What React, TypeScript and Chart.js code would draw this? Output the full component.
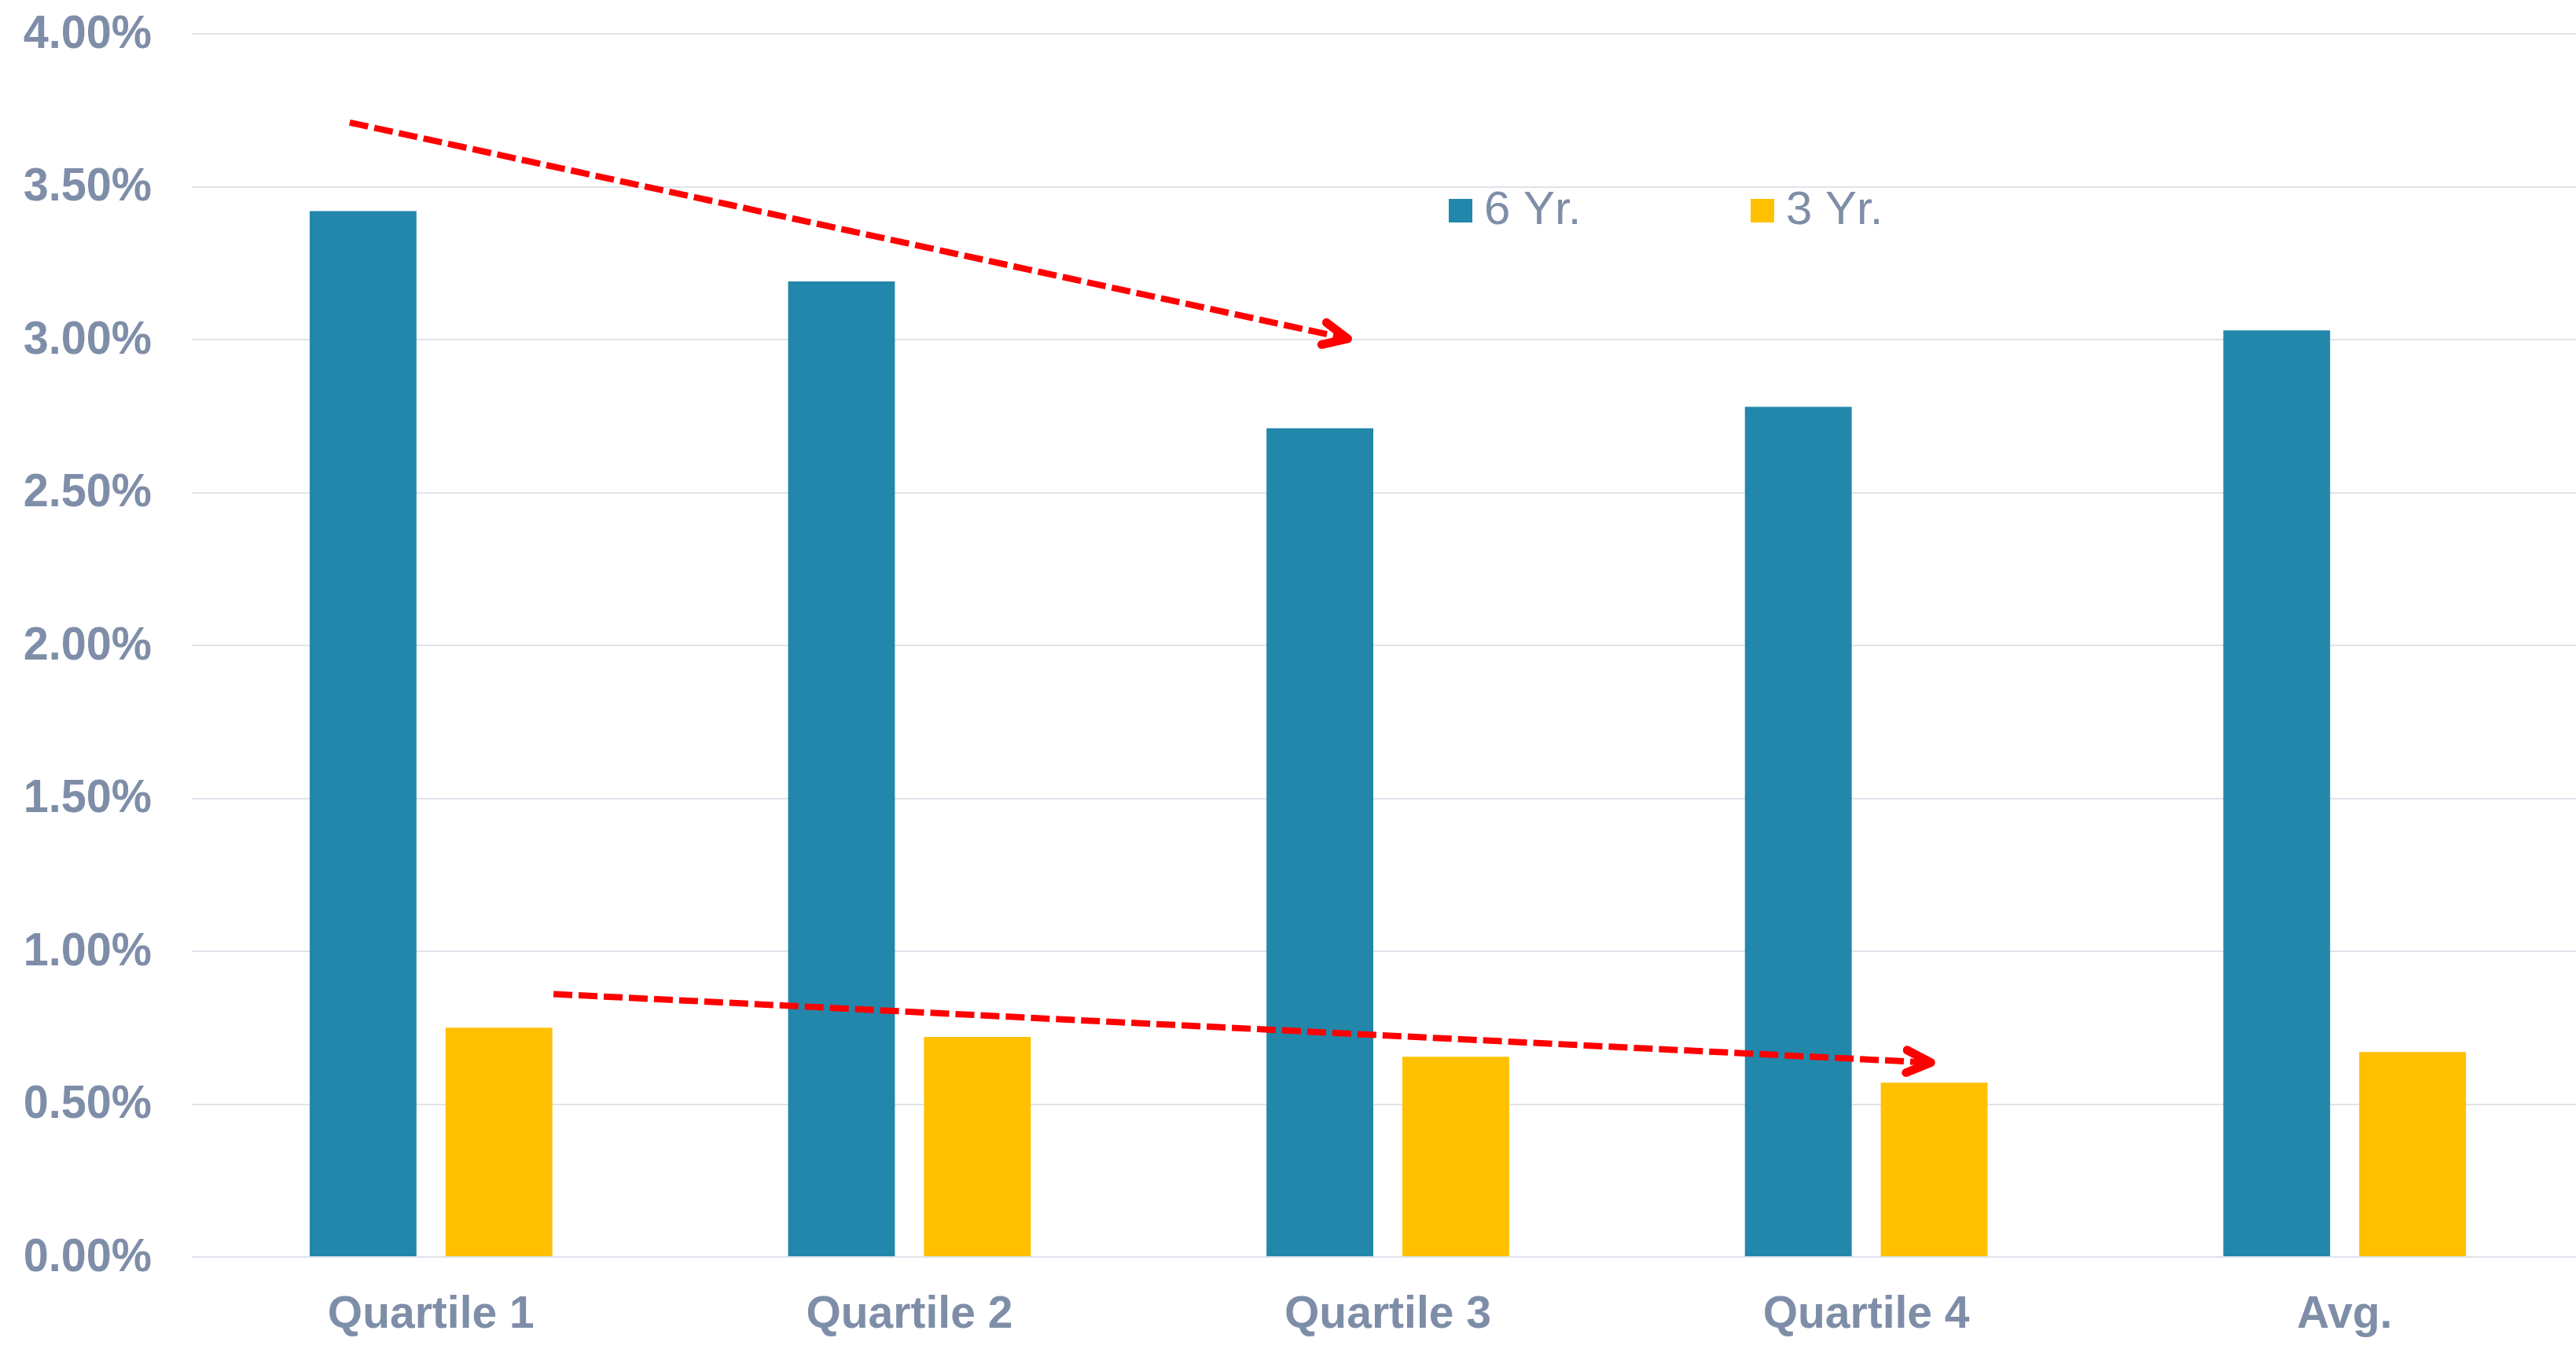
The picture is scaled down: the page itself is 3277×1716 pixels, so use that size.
import { useEffect, useRef } from "react";
import { Chart, registerables } from "chart.js";

Chart.register(...registerables);

// ---- data ----
const categories = ["Quartile 1", "Quartile 2", "Quartile 3", "Quartile 4", "Avg."];
const sixYear = [3.42, 3.19, 2.71, 2.78, 3.03];
const threeYear = [0.75, 0.72, 0.655, 0.57, 0.67];
const seriesLabels = ["6 Yr.", "3 Yr."];
const yTicks = [0, 0.5, 1, 1.5, 2, 2.5, 3, 3.5, 4];

// trend arrows, each point is [category index, value in %]
const upperTrend = [
  [-0.17, 3.71],
  [1.925, 3.0],
];
const lowerTrend = [
  [0.256, 0.86],
  [3.144, 0.635],
];

// ---- styling ----
const FONT = '"Liberation Sans", Arial, Helvetica, sans-serif';
const TEXT = "#7f8ea8";
const BLUE = "#2287ab";
const GOLD = "#ffc000";
const GRID = "#dfe3ea";
const RED = "#ff0000";

const W = 3287;
const H = 1716;

const yLabelPlugin = {
  id: "yLabels",
  afterDraw(chart: any) {
    const { ctx, scales } = chart;
    const y = scales.y;
    ctx.save();
    ctx.fillStyle = TEXT;
    ctx.font = `bold 60px ${FONT}`;
    ctx.textAlign = "right";
    ctx.textBaseline = "middle";
    for (const v of yTicks) {
      const py = y.getPixelForValue(v);
      ctx.save();
      ctx.translate(193, py);
      ctx.scale(0.96, 1);
      ctx.fillText(`${v.toFixed(2)}%`, 0, 1);
      ctx.restore();
    }
    ctx.restore();
  },
};

const legendPlugin = {
  id: "insideLegend",
  afterDraw(chart: any) {
    const { ctx } = chart;
    const slots = [1843, 2227];
    const cy = 268;
    ctx.save();
    chart.data.datasets.forEach((ds: any, i: number) => {
      const x = slots[i];
      ctx.fillStyle = ds.backgroundColor;
      ctx.fillRect(x, cy - 15, 30, 30);
      ctx.fillStyle = TEXT;
      ctx.font = `60px ${FONT}`;
      ctx.textAlign = "left";
      ctx.textBaseline = "middle";
      ctx.fillText(ds.label, x + 45, cy);
    });
    ctx.restore();
  },
};

function drawTrend(chart: any, pts: number[][]) {
  const { ctx, scales } = chart;
  const x0 = scales.x.getPixelForValue(pts[0][0]);
  const y0 = scales.y.getPixelForValue(pts[0][1]);
  const x1 = scales.x.getPixelForValue(pts[1][0]);
  const y1 = scales.y.getPixelForValue(pts[1][1]);
  const dx = x1 - x0;
  const dy = y1 - y0;
  const len = Math.hypot(dx, dy);
  const ux = dx / len;
  const uy = dy / len;
  const jx = x1 - ux * 5.5;
  const jy = y1 - uy * 5.5;

  ctx.save();
  ctx.strokeStyle = RED;
  ctx.lineWidth = 8;
  ctx.lineCap = "butt";
  ctx.setLineDash([24, 8]);
  ctx.beginPath();
  ctx.moveTo(x0, y0);
  ctx.lineTo(jx - ux * 4, jy - uy * 4);
  ctx.stroke();

  ctx.setLineDash([]);
  ctx.lineWidth = 11;
  ctx.lineCap = "round";
  ctx.lineJoin = "round";
  const ang = Math.atan2(-uy, -ux);
  const half = (25 * Math.PI) / 180;
  const arm = 34;
  ctx.beginPath();
  ctx.moveTo(jx + Math.cos(ang + half) * arm, jy + Math.sin(ang + half) * arm);
  ctx.lineTo(jx, jy);
  ctx.lineTo(jx + Math.cos(ang - half) * arm, jy + Math.sin(ang - half) * arm);
  ctx.stroke();
  ctx.restore();
}

const trendPlugin = {
  id: "trendArrows",
  afterDatasetsDraw(chart: any) {
    drawTrend(chart, upperTrend);
    drawTrend(chart, lowerTrend);
  },
};

export default function App() {
  const ref = useRef<HTMLCanvasElement | null>(null);

  useEffect(() => {
    if (!ref.current) return;
    const chart = new Chart(ref.current, {
      type: "bar",
      data: {
        labels: categories,
        datasets: [
          {
            label: seriesLabels[0],
            data: sixYear,
            backgroundColor: BLUE,
            categoryPercentage: 0.568,
            barPercentage: 0.786,
          },
          {
            label: seriesLabels[1],
            data: threeYear,
            backgroundColor: GOLD,
            categoryPercentage: 0.568,
            barPercentage: 0.786,
          },
        ],
      },
      options: {
        animation: false,
        responsive: false,
        maintainAspectRatio: false,
        devicePixelRatio: 1,
        layout: { padding: { top: 43, left: 0, right: 0, bottom: 0 } },
        plugins: {
          legend: { display: false },
          tooltip: { enabled: false },
        },
        scales: {
          x: {
            grid: { display: false },
            border: { display: false },
            ticks: {
              color: TEXT,
              font: { family: FONT, size: 57, weight: "bold" },
              padding: 32,
              maxRotation: 0,
            },
            afterFit(scale: any) {
              scale.height = 117;
            },
          },
          y: {
            min: 0,
            max: 4,
            ticks: { stepSize: 0.5, display: false },
            grid: { color: GRID, lineWidth: 2, drawTicks: false },
            border: { display: false },
            afterFit(scale: any) {
              scale.width = 244;
            },
          },
        },
      },
      plugins: [trendPlugin, legendPlugin, yLabelPlugin],
    });
    return () => chart.destroy();
  }, []);

  return (
    <div
      style={{
        position: "fixed",
        left: 0,
        top: 0,
        width: 3277,
        height: 1716,
        overflow: "hidden",
        background: "#ffffff",
      }}
    >
      <canvas ref={ref} width={W} height={H} style={{ width: W, height: H, display: "block" }} />
    </div>
  );
}
